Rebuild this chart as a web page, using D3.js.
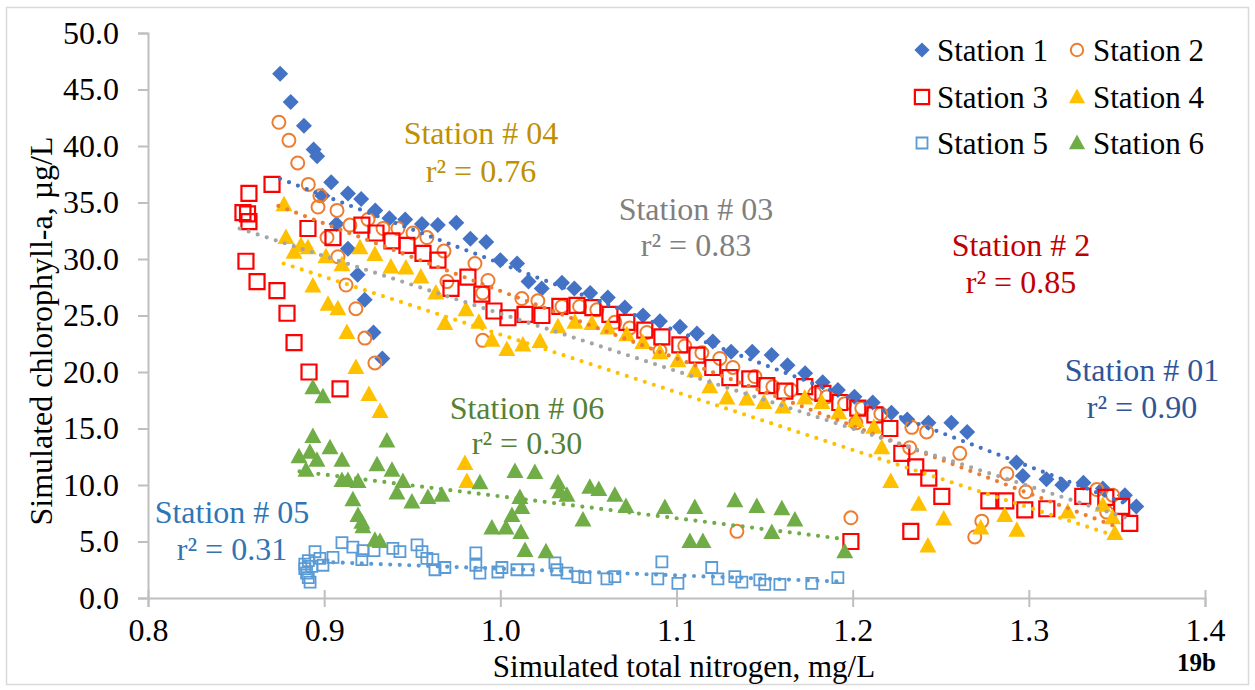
<!DOCTYPE html>
<html>
<head>
<meta charset="utf-8">
<script src="https://cdn.jsdelivr.net/npm/d3@7"></script>
<style>
  html, body { margin: 0; padding: 0; background: #ffffff; }
  svg { display: block; }
  text { font-family: "Liberation Serif", "Times New Roman", serif; }
</style>
</head>
<body>
<svg id="chart" width="1255" height="690"></svg>
<script>
// ---------------- DATA ----------------
const xTicks = [0.8, 0.9, 1.0, 1.1, 1.2, 1.3, 1.4];
const yTicks = [0, 5, 10, 15, 20, 25, 30, 35, 40, 45, 50];
const seriesNames = ["Station 1", "Station 2", "Station 3", "Station 4", "Station 5", "Station 6"];

const station1 = [
  [0.875,46.4],[0.881,43.9],[0.8885,41.8],[0.894,39.7],[0.896,39.1],[0.899,35.6],[0.904,36.8],
  [0.907,33.1],[0.9135,35.8],[0.9135,30.9],[0.919,28.6],[0.921,35.3],[0.923,26.4],[0.928,23.5],
  [0.929,34.3],[0.933,21.2],[0.937,33.6],[0.946,33.5],[0.9555,33.1],[0.9645,33.0],[0.975,33.2],
  [0.983,31.8],[0.992,31.5],[1.000,29.9],[1.0095,29.6],[1.016,28.0],[1.0235,27.4],[1.035,27.9],
  [1.042,27.4],[1.051,27.0],[1.061,26.6],[1.0707,25.7],[1.081,25.0],[1.0906,24.5],[1.102,24.0],
  [1.1116,23.4],[1.1206,22.7],[1.131,21.8],[1.143,21.8],[1.154,21.5],[1.163,20.6],[1.173,19.9],
  [1.183,19.1],[1.1916,18.4],[1.201,17.8],[1.2114,17.3],[1.222,16.4],[1.231,15.8],[1.243,15.5],
  [1.256,15.5],[1.265,14.7],[1.293,12.0],[1.2966,10.8],[1.310,10.5],[1.319,10.0],[1.331,10.2],
  [1.342,9.7],[1.3545,9.1],[1.361,8.1]
];
const station2 = [
  [0.8743,42.1],[0.880,40.5],[0.885,38.5],[0.891,36.6],[0.8976,35.6],[0.8965,34.6],[0.9073,34.3],
  [0.9016,31.9],[0.9146,33.0],[0.9078,30.2],[0.9249,33.5],[0.9124,27.7],[0.9334,32.7],[0.918,25.6],
  [0.9419,32.7],[0.9231,23.0],[0.9504,32.3],[0.9288,20.8],[0.9583,31.9],[0.968,30.7],[0.9856,29.6],
  [0.993,28.1],[0.9697,28.0],[0.990,27.0],[0.990,22.8],[1.0122,26.5],[1.0213,26.3],[1.035,25.8],
  [1.045,25.8],[1.0548,25.5],[1.065,24.4],[1.0735,23.9],[1.0832,23.5],[1.0906,21.9],[1.1047,22.3],
  [1.1144,21.7],[1.1246,21.2],[1.132,20.4],[1.1343,5.9],[1.1445,19.6],[1.1547,18.7],[1.165,18.4],
  [1.1785,18.1],[1.1853,17.8],[1.1955,17.2],[1.199,7.1],[1.2052,16.8],[1.216,16.3],[1.2018,15.5],
  [1.2324,13.3],[1.2336,15.1],[1.242,14.7],[1.2608,12.8],[1.2693,5.4],[1.2733,6.8],[1.2875,11.0],
  [1.2983,9.4],[1.3386,9.6],[1.3442,7.6],[1.3476,9.1]
];
const station3 = [
  [0.8704,36.6],[0.8573,35.8],[0.8539,34.1],[0.8565,34.0],[0.8573,33.3],[0.8556,29.8],[0.8619,28.0],
  [0.8732,27.2],[0.8789,25.2],[0.8829,22.6],[0.8914,20.0],[0.909,18.5],[0.8908,32.7],[0.905,31.9],
  [0.9214,33.0],[0.9294,32.3],[0.9385,31.6],[0.947,31.2],[0.9561,30.5],[0.9646,29.9],[0.972,27.4],
  [0.9816,28.4],[0.9895,26.9],[0.9964,25.4],[1.0043,24.8],[1.014,25.1],[1.0236,25.0],[1.0338,25.8],
  [1.0435,25.9],[1.0525,25.7],[1.0622,25.1],[1.0718,24.4],[1.082,23.7],[1.0917,23.1],[1.1019,22.4],
  [1.1116,21.5],[1.1206,20.4],[1.1303,19.5],[1.1416,19.4],[1.1513,18.8],[1.1615,18.3],[1.1728,18.7],
  [1.1831,18.1],[1.1927,17.3],[1.199,5.0],[1.2029,16.8],[1.2126,16.2],[1.2211,15.0],[1.2279,12.8],
  [1.233,5.9],[1.2358,11.6],[1.2432,10.6],[1.2506,9.0],[1.2773,8.6],[1.2869,8.6],[1.2977,7.8],
  [1.3102,7.9],[1.3306,9.0],[1.3437,8.9],[1.3527,8.1],[1.3573,6.6]
];
const station4 = [
  [0.8772,34.8],[0.8783,31.9],[0.8829,30.6],[0.8868,31.2],[0.8908,31.0],[0.8936,27.6],[0.901,30.2],
  [0.9022,26.0],[0.9078,25.6],[0.9101,29.5],[0.9129,23.5],[0.918,20.4],[0.9203,31.0],[0.9254,18.0],
  [0.9288,30.4],[0.9317,16.5],[0.9379,29.3],[0.9464,29.2],[0.9549,28.4],[0.9634,27.0],[0.9685,24.3],
  [0.9799,11.9],[0.9805,25.5],[0.981,10.3],[0.9878,24.4],[0.9952,22.8],[1.0037,22.0],[1.0128,22.4],
  [1.0225,22.7],[1.0327,24.0],[1.0423,24.4],[1.052,24.3],[1.0611,23.9],[1.0718,23.3],[1.0809,22.6],
  [1.0906,21.7],[1.1008,21.0],[1.1104,20.1],[1.1189,18.7],[1.1286,17.7],[1.1399,17.6],[1.1496,17.3],
  [1.1604,16.9],[1.1728,17.7],[1.1825,17.3],[1.1921,16.4],[1.2018,15.7],[1.212,15.1],[1.2165,13.3],
  [1.2216,10.3],[1.2375,8.3],[1.2427,4.6],[1.2517,7.0],[1.2727,6.2],[1.2863,7.3],[1.2932,6.0],
  [1.3221,7.6],[1.342,8.2],[1.3476,7.1],[1.3488,5.7]
];
const station5 = [
  [0.889,2.6],[0.890,2.2],[0.891,1.8],[0.892,1.4],[0.889,3.0],[0.891,3.3],[0.893,2.8],
  [0.8948,4.1],[0.8976,3.5],[0.8993,2.9],[0.905,3.6],[0.9101,4.9],[0.9163,4.5],[0.9214,3.4],
  [0.922,4.2],[0.9283,4.2],[0.939,4.4],[0.943,4.1],[0.9527,4.7],[0.9555,4.1],[0.9583,3.5],
  [0.9617,3.4],[0.9629,2.5],[0.9685,2.7],[0.9861,4.0],[0.9861,2.9],[0.9884,2.2],[0.9986,2.3],
  [1.0009,2.7],[1.0094,2.5],[1.0157,2.5],[1.031,3.1],[1.0321,2.5],[1.0378,2.2],[1.044,1.9],
  [1.048,1.8],[1.0605,1.7],[1.065,1.9],[1.0894,1.7],[1.0917,3.2],[1.1008,1.3],[1.12,2.7],
  [1.1235,1.7],[1.1331,1.9],[1.1371,1.4],[1.1473,1.6],[1.1501,1.2],[1.1587,1.2],[1.1768,1.3],
  [1.1916,1.8]
];
const station6 = [
  [0.8857,12.5],[0.8897,11.3],[0.8919,12.9],[0.8936,18.6],[0.8936,14.3],[0.8959,12.2],[0.8993,17.8],
  [0.9033,13.3],[0.9101,12.2],[0.9101,10.4],[0.9135,10.4],[0.9163,8.7],[0.9192,10.3],[0.9192,7.3],
  [0.9214,6.7],[0.922,6.3],[0.9288,5.1],[0.9317,5.0],[0.93,11.8],[0.9356,13.9],[0.9385,11.3],
  [0.9413,9.3],[0.9447,10.3],[0.9498,8.5],[0.9589,8.9],[0.9668,9.1],[0.9884,10.2],[0.9952,6.2],
  [1.0032,6.2],[1.0066,7.3],[1.0083,11.2],[1.0111,8.9],[1.0122,8.0],[1.0117,5.8],[1.014,4.2],
  [1.0196,11.1],[1.0259,4.1],[1.0327,10.2],[1.0338,9.4],[1.0378,9.1],[1.0469,6.9],[1.0508,9.8],
  [1.0559,9.6],[1.065,9.1],[1.0713,8.1],[1.0934,8.0],[1.1076,5.0],[1.1104,8.0],[1.115,5.0],
  [1.1331,8.6],[1.1456,8.1],[1.1541,5.8],[1.1598,7.9],[1.1672,6.9],[1.1955,4.1]
];

// linear trendlines: start x, end x, start y, end y
const trendX0 = [0.875, 0.874, 0.852, 0.877, 0.889, 0.886];
const trendX1 = [1.361, 1.348, 1.357, 1.349, 1.192, 1.196];
const trendY0 = [37.1, 34.7, 32.7, 29.6, 3.25, 11.2];
const trendY1 = [8.0, 6.4, 7.0, 5.5, 1.46, 5.2];

// annotation labels
const labelTitles = ["Station # 04", "Station # 03", "Station # 2", "Station # 01", "Station # 06", "Station # 05"];
const labelR2 = ["r² = 0.76", "r² = 0.83", "r² = 0.85", "r² = 0.90", "r² = 0.30", "r² = 0.31"];

// ---------------- STYLE / LAYOUT ----------------
const allSeries = [station1, station2, station3, station4, station5, station6];
const markerColors = ["#4472C4", "#ED7D31", "#FF0000", "#FFC000", "#5B9BD5", "#70AD47"];
const trendColors = ["#4472C4", "#ED7D31", "#A5A5A5", "#FFC000", "#5B9BD5", "#70AD47"];
const labelColors = ["#BF9000", "#7F7F7F", "#C00000", "#2F5597", "#538135", "#2E75B6"];
const labelPos = [[481, 144, 182], [696, 220, 256], [1021, 256, 293], [1142, 381, 418], [527, 419, 454], [232, 523, 560]];
const FONT = '"Liberation Serif", "Times New Roman", serif';

const svg = d3.select("#chart");
const x = d3.scaleLinear().domain([0.8, 1.4]).range([148, 1205]);
const y = d3.scaleLinear().domain([0, 50]).range([598, 33]);

// chart border
svg.append("rect").attr("x", 6.5).attr("y", 7.5).attr("width", 1242).attr("height", 677)
  .attr("fill", "#fff").attr("stroke", "#d9d9d9").attr("stroke-width", 1.5);

// axes
const axisColor = "#bfbfbf";
const yAxis = svg.append("g").attr("transform", `translate(${x(0.8)},0)`)
  .call(d3.axisLeft(y).tickValues(yTicks).tickFormat(d3.format(".1f")).tickSize(10).tickPadding(19));
const xAxis = svg.append("g").attr("transform", `translate(0,${y(0)})`)
  .call(d3.axisBottom(x).tickValues(xTicks).tickFormat(d3.format(".1f")).tickSize(9).tickPadding(11));
[yAxis, xAxis].forEach(g => {
  g.select(".domain").attr("stroke", axisColor).attr("stroke-width", 2);
  g.selectAll(".tick line").attr("stroke", axisColor).attr("stroke-width", 2);
  g.selectAll(".tick text").attr("fill", "#000").style("font-size", "32px").style("font-family", FONT);
});
// x ticks cross the axis
xAxis.selectAll(".tick line").attr("y1", -8);

// axis titles
svg.append("text").attr("x", 684).attr("y", 677).attr("text-anchor", "middle")
  .style("font-size", "31px").text("Simulated total nitrogen, mg/L");
svg.append("text").attr("transform", "translate(52,331) rotate(-90)").attr("text-anchor", "middle")
  .style("font-size", "32px").text("Simulated chlorophyll-a, µg/L");
svg.append("text").attr("x", 1216).attr("y", 671).attr("text-anchor", "end")
  .style("font-size", "25px").style("font-weight", "bold").text("19b");

// marker shape generators
function markerPath(i, s) {
  switch (i) {
    case 0: { const r = 8 * s; return `M0,${-r}L${r},0L0,${r}L${-r},0Z`; }
    case 1: { const r = 6.5 * s; return `M${r},0A${r},${r} 0 1,1 ${-r},0A${r},${r} 0 1,1 ${r},0Z`; }
    case 2: { const h = 7.5 * s; return `M${-h},${-h}H${h}V${h}H${-h}Z`; }
    case 3:
    case 5: { const w = 8.5 * s, t = 9 * s, b = 6.5 * s; return `M0,${-t}L${w},${b}L${-w},${b}Z`; }
    case 4: { const h = 5.5 * s; return `M${-h},${-h}H${h}V${h}H${-h}Z`; }
  }
}
function styleMarker(sel, i) {
  const filled = (i === 0 || i === 3 || i === 5);
  sel.attr("fill", filled ? markerColors[i] : "none")
     .attr("stroke", filled ? "none" : markerColors[i])
     .attr("stroke-width", i === 2 ? 2.2 : (i === 4 ? 1.8 : 2));
}

// points
const plot = svg.append("g");
allSeries.forEach((data, i) => {
  const g = plot.append("g");
  g.selectAll("path").data(data).enter().append("path")
    .attr("transform", d => `translate(${x(d[0])},${y(d[1])})`)
    .attr("d", markerPath(i, 1))
    .call(styleMarker, i);
});

// trendlines (dotted)
trendColors.forEach((c, i) => {
  plot.append("line")
    .attr("x1", x(trendX0[i])).attr("y1", y(trendY0[i]))
    .attr("x2", x(trendX1[i])).attr("y2", y(trendY1[i]))
    .attr("stroke", c).attr("stroke-width", 4.2).attr("stroke-linecap", "round")
    .attr("stroke-dasharray", "0,9.5");
});

// annotation labels
labelTitles.forEach((t, i) => {
  const [cx, y1, y2] = labelPos[i];
  svg.append("text").attr("x", cx).attr("y", y1).attr("text-anchor", "middle")
    .attr("fill", labelColors[i]).style("font-size", "32px").text(t);
  svg.append("text").attr("x", cx).attr("y", y2).attr("text-anchor", "middle")
    .attr("fill", labelColors[i]).style("font-size", "32px").text(labelR2[i]);
});

// legend
const legMarkerX = [222 + 700, 1077];
const legTextX = [937, 1093];
const legRows = [50, 97, 143];
seriesNames.forEach((name, i) => {
  const col = i % 2, cy = legRows[Math.floor(i / 2)];
  const s = (i === 4) ? 1.0 : 0.95;
  svg.append("path").attr("transform", `translate(${legMarkerX[col]},${cy})`)
    .attr("d", markerPath(i, s)).call(styleMarker, i);
  svg.append("text").attr("x", legTextX[col]).attr("y", cy + 11)
    .style("font-size", "31px").attr("fill", "#000").text(name);
});
</script>
</body>
</html>
